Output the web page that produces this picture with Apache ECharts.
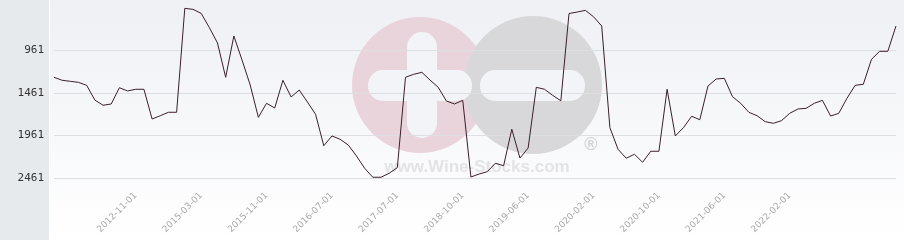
<!DOCTYPE html>
<html>
<head>
<meta charset="utf-8">
<script src="https://cdn.jsdelivr.net/npm/echarts@6/dist/echarts.min.js"></script>
<style>
html,body{margin:0;padding:0;background:#fff;}
#chart{width:904px;height:240px;}
</style>
</head>
<body>
<div id="chart"></div>
<script>
// Rank values (lower is better, axis inverted)
const rankValues = [
  1280, 1315, 1327, 1339, 1374, 1546, 1607, 1592, 1402, 1440,
  1420, 1420, 1768, 1729, 1689, 1689, 474, 485, 532, 698,
  879, 1280, 797, 1078, 1370, 1748, 1584, 1639, 1315, 1510,
  1429, 1569, 1713, 2080, 1966, 2005, 2072, 2200, 2344, 2449,
  2449, 2402, 2337, 1280, 1245, 1222, 1312, 1397, 1557, 1592,
  1549, 2446, 2411, 2384, 2285, 2314, 1887, 2224, 2107, 1397,
  1420, 1491, 1555, 534, 517, 497, 572, 680, 1869, 2122,
  2227, 2180, 2274, 2145, 2145, 1420, 1966, 1869, 1736, 1776,
  1382, 1300, 1292, 1507, 1584, 1689, 1729, 1799, 1818, 1787,
  1701, 1651, 1643, 1584, 1549, 1733, 1701, 1526, 1374, 1362,
  1070, 976, 976, 680
];
// Visible date labels on the x axis and the positions they sit at
const tickLabels = ['2012-11-01','2015-03-01','2015-11-01','2016-07-01','2017-07-01',
  '2018-10-01','2019-06-01','2020-02-01','2020-10-01','2021-06-01','2022-02-01'];
const tickIndices = [10, 18, 26, 34, 42, 50, 58, 66, 74, 82, 90];
const yTickValues = [961, 1461, 1961, 2461];

const categories = rankValues.map((v, i) => {
  const k = tickIndices.indexOf(i);
  return k >= 0 ? tickLabels[k] : ('#' + i);
});

const chart = echarts.init(document.getElementById('chart'), null, {renderer: 'canvas'});
chart.setOption({
  animation: false,
  backgroundColor: '#ffffff',
  graphic: [
    {type: 'rect', z: -20, shape: {x: 0, y: 0, width: 49, height: 240}, style: {fill: '#e7eaed'}},
    {type: 'rect', z: -20, shape: {x: 50, y: 0, width: 854, height: 240},
      style: {fill: new echarts.graphic.LinearGradient(0, 0, 0, 1, [
        {offset: 0, color: '#eef0f4'}, {offset: 0.85, color: '#fdfdfe'}, {offset: 1, color: '#ffffff'}])}},
    {type: 'circle', z: -10, shape: {cx: 420, cy: 85, r: 68}, style: {fill: '#ead4db'}},
    {type: 'circle', z: -9, shape: {cx: 533, cy: 85, r: 69}, style: {fill: '#d8d8da'}},
    {type: 'rect', z: -8, shape: {x: 407, y: 32, width: 30, height: 106, r: 15}, style: {fill: '#f3f4f7'}},
    {type: 'rect', z: -8, shape: {x: 368, y: 70, width: 104, height: 31, r: 15}, style: {fill: '#f3f4f7'}},
    {type: 'rect', z: -8, shape: {x: 480, y: 70, width: 105, height: 31, r: 15}, style: {fill: '#f3f4f7'}},
    {type: 'text', z: -7, x: 477, y: 167, style: {text: 'www.Wine-Stocks.com', fill: '#e3e3e5',
      font: 'bold 17px "Liberation Sans", Arial, sans-serif', align: 'center', verticalAlign: 'middle'}},
    {type: 'text', z: -7, x: 591, y: 145, style: {text: '®', fill: '#d4d4d6',
      font: 'bold 18px "Liberation Sans", Arial, sans-serif', align: 'center', verticalAlign: 'middle'}}
  ],
  grid: {left: 54, right: 8, top: 0, bottom: 50, containLabel: false},
  xAxis: {
    type: 'category',
    data: categories,
    boundaryGap: false,
    axisLine: {show: false},
    axisTick: {show: false},
    splitLine: {show: false},
    axisLabel: {
      rotate: 45,
      margin: 4,
      hideOverlap: false,
      interval: (idx) => tickIndices.indexOf(idx) >= 0,
      color: '#a9a9a9',
      fontSize: 9,
      fontFamily: '"DejaVu Sans", sans-serif'
    }
  },
  yAxis: {
    type: 'value',
    inverse: true,
    min: 376,
    max: 2598,
    axisLine: {show: false},
    axisTick: {show: false, customValues: yTickValues},
    splitLine: {show: true, lineStyle: {color: '#dedfe2', width: 1}},
    axisLabel: {
      customValues: yTickValues,
      formatter: (v) => String(v),
      margin: 10,
      color: '#333333',
      fontSize: 11,
      fontFamily: '"DejaVu Sans Mono", monospace'
    }
  },
  series: [{
    type: 'line',
    data: rankValues,
    showSymbol: false,
    symbol: 'none',
    lineStyle: {color: '#3b1f2b', width: 1},
    z: 5
  }]
});
</script>
</body>
</html>
